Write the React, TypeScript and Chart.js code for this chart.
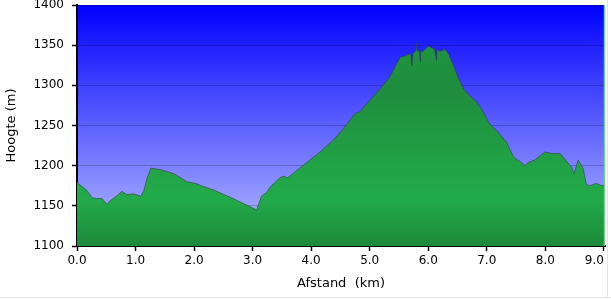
import { useEffect, useRef } from 'react';
import { Chart, registerables } from 'chart.js';

Chart.register(...registerables);

const distanceKm = [
  0.0, 0.02, 0.17, 0.26, 0.34, 0.43, 0.51, 0.56, 0.67, 0.77, 0.85, 0.97, 1.09, 1.14, 1.2, 1.26,
  1.43, 1.66, 1.88, 2.02, 2.13, 2.36, 2.7, 3.07, 3.15, 3.24, 3.32, 3.47, 3.52, 3.6, 3.72, 3.89,
  4.03, 4.15, 4.24, 4.38, 4.55, 4.75, 4.83, 5.0, 5.23, 5.34, 5.52, 5.63, 5.7, 5.72, 5.74, 5.79,
  5.8, 5.81, 5.85, 5.86, 5.87, 5.91, 6.0, 6.11, 6.14, 6.15, 6.2, 6.28, 6.34, 6.43, 6.51, 6.6,
  6.71, 6.83, 6.94, 7.05, 7.19, 7.34, 7.45, 7.51, 7.59, 7.65, 7.71, 7.82, 7.99, 8.13, 8.25, 8.36,
  8.45, 8.49, 8.56, 8.65, 8.7, 8.76, 8.87, 8.96, 9.02,
];
const heightM = [
  1180, 1178, 1169, 1160, 1159, 1159, 1152, 1156, 1162, 1168, 1164, 1165, 1162, 1169, 1185, 1197,
  1195, 1190, 1180, 1178, 1175, 1169, 1158, 1145, 1162, 1167, 1175, 1185, 1187, 1185, 1192, 1202,
  1210, 1217, 1223, 1232, 1246, 1265, 1267, 1281, 1300, 1310, 1335, 1337, 1340, 1324, 1340, 1343,
  1353, 1343, 1343, 1330, 1343, 1342, 1349, 1345, 1331, 1345, 1342, 1345, 1340, 1325, 1310, 1296,
  1287, 1279, 1267, 1252, 1242, 1229, 1212, 1208, 1204, 1200, 1204, 1207, 1217, 1215, 1215, 1206,
  1198, 1190, 1207, 1196, 1177, 1175, 1178, 1175, 1176,
];
const xTicks = [0, 1, 2, 3, 4, 5, 6, 7, 8, 9];
const yTicks = [1100, 1150, 1200, 1250, 1300, 1350, 1400];
const xTitle = 'Afstand  (km)';
const yTitle = 'Hoogte (m)';

export default function App() {
  const ref = useRef<HTMLCanvasElement>(null);

  useEffect(() => {
    const canvas = ref.current;
    if (!canvas) return;

    const framePlugin = {
      id: 'frame',
      beforeDraw(chart: any) {
        const { ctx, chartArea: a } = chart;
        const g = ctx.createLinearGradient(0, a.top, 0, a.bottom);
        g.addColorStop(0, '#0000ff');
        g.addColorStop(1, '#b9c0ff');
        ctx.save();
        ctx.fillStyle = g;
        ctx.fillRect(a.left, a.top, a.right - a.left, a.bottom - a.top);
        ctx.restore();
      },
      afterDraw(chart: any) {
        const { ctx, chartArea: a } = chart;
        ctx.save();
        ctx.strokeStyle = '#6fd07f';
        ctx.lineWidth = 1.5;
        ctx.beginPath();
        ctx.moveTo(a.right - 0.5, a.top);
        ctx.lineTo(a.right - 0.5, a.bottom);
        ctx.stroke();
        ctx.strokeStyle = '#e4e4e4';
        ctx.lineWidth = 1;
        ctx.beginPath();
        ctx.moveTo(607.5, 0);
        ctx.lineTo(607.5, 297.5);
        ctx.moveTo(0, 297.5);
        ctx.lineTo(611, 297.5);
        ctx.stroke();
        ctx.restore();
      },
    };

    const font = { family: "'DejaVu Sans', Verdana, sans-serif", size: 12 };
    const titleFont = { family: "'DejaVu Sans', Verdana, sans-serif", size: 13 };

    const chart = new Chart(canvas, {
      type: 'line',
      data: {
        datasets: [
          {
            data: distanceKm.map((d, i) => ({ x: d, y: heightM[i] })),
            fill: 'start',
            borderColor: 'rgba(55,55,55,0.55)',
            borderWidth: 1,
            pointRadius: 0,
            tension: 0,
            backgroundColor: (c: any) => {
              const a = c.chart.chartArea;
              if (!a) return '#21a046';
              const g = c.chart.ctx.createLinearGradient(0, a.top, 0, a.bottom);
              g.addColorStop(0, '#1f9b43');
              g.addColorStop(0.35, '#1e8d3d');
              g.addColorStop(0.8, '#22ab4a');
              g.addColorStop(1, '#1c8a3b');
              return g;
            },
          },
        ],
      },
      options: {
        animation: false,
        responsive: false,
        maintainAspectRatio: false,
        layout: { padding: { top: 5, right: 6, left: 0, bottom: 0 } },
        plugins: { legend: { display: false }, tooltip: { enabled: false } },
        scales: {
          x: {
            type: 'linear',
            min: 0,
            max: 9.02,
            z: 1,
            afterBuildTicks: (s: any) => {
              s.ticks = xTicks.map((v) => ({ value: v }));
            },
            afterFit: (s: any) => {
              s.height = 53;
              s.paddingLeft = 0;
              s.paddingRight = 0;
              s.paddingTop = 0;
              s.paddingBottom = 0;
            },
            grid: {
              drawOnChartArea: false,
              tickLength: 5,
              tickColor: '#000',
              tickWidth: 1.5,
            },
            border: { color: '#000', width: 2 },
            ticks: {
              color: '#000',
              font,
              padding: 3,
              maxRotation: 0,
              autoSkip: false,
              callback: (v: any) => {
                const label = Number(v).toFixed(1);
                return v === xTicks[xTicks.length - 1] ? label + '\u00a0\u00a0\u00a0\u00a0\u00a0' : label;
              },
            },
            title: {
              display: true,
              text: xTitle,
              color: '#000',
              font: titleFont,
              padding: { top: 0, bottom: 8 },
            },
          },
          y: {
            type: 'linear',
            min: 1100,
            max: 1400,
            z: 1,
            afterBuildTicks: (s: any) => {
              s.ticks = yTicks.map((v) => ({ value: v }));
            },
            afterFit: (s: any) => {
              s.width = 77;
              s.paddingLeft = 0;
              s.paddingRight = 0;
              s.paddingTop = 0;
              s.paddingBottom = 0;
            },
            grid: {
              color: 'rgba(0,0,0,0.2)',
              lineWidth: 1,
              tickLength: 5,
              tickColor: '#000',
              tickWidth: 1.5,
            },
            border: { color: '#000', width: 2 },
            ticks: {
              color: '#000',
              font,
              padding: 8,
              autoSkip: false,
              callback: (v: any) => String(v),
            },
            title: {
              display: true,
              text: yTitle,
              color: '#000',
              font: titleFont,
              padding: { top: 4, bottom: 0 },
            },
          },
        },
      },
      plugins: [framePlugin],
    } as any);

    return () => chart.destroy();
  }, []);

  return (
    <div style={{ position: 'fixed', left: 0, top: 0, width: 611, height: 299, background: '#fff' }}>
      <canvas ref={ref} width={611} height={299} style={{ display: 'block', width: 611, height: 299 }} />
    </div>
  );
}
